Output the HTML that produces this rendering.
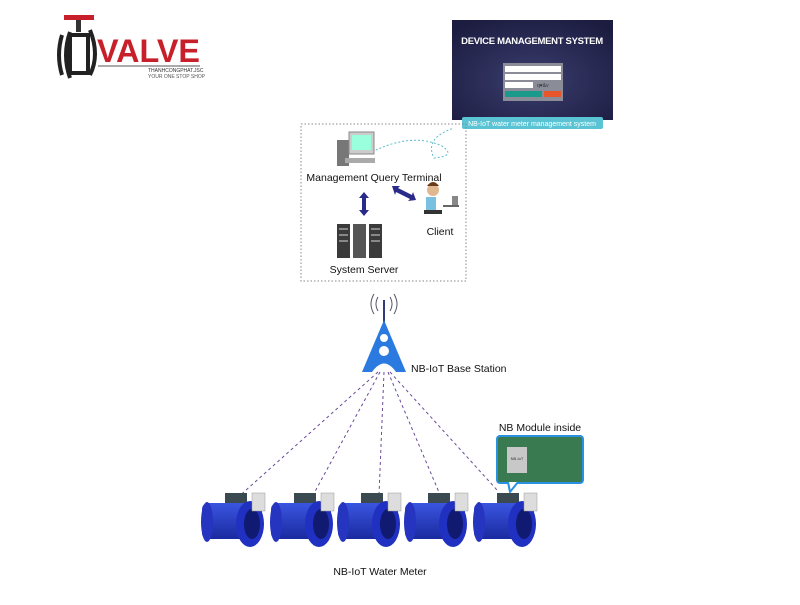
<!DOCTYPE html>
<html><head><meta charset="utf-8"><style>
body{margin:0;background:#fff;width:800px;height:600px;overflow:hidden;font-family:"Liberation Sans",sans-serif}
</style></head><body>
<svg width="800" height="600" viewBox="0 0 800 600" xmlns="http://www.w3.org/2000/svg" font-family="Liberation Sans, sans-serif">
<defs>
<radialGradient id="bg" cx="50%" cy="60%" r="70%"><stop offset="0" stop-color="#3a3d6e"/><stop offset="1" stop-color="#1c1c40"/></radialGradient>
<linearGradient id="mb" x1="0" y1="0" x2="0" y2="1"><stop offset="0" stop-color="#3a55e0"/><stop offset="1" stop-color="#1a2aa0"/></linearGradient>
</defs>
<!-- logo -->
<rect x="64" y="15" width="30" height="5" fill="#c8202a"/>
<rect x="76" y="20" width="5" height="12" fill="#333"/>
<path d="M62 35 q-6 20 0 40 M70 32 q-8 23 0 46" stroke="#222" stroke-width="4" fill="none"/>
<rect x="70" y="35" width="18" height="38" fill="none" stroke="#222" stroke-width="4"/>
<path d="M90 30 q10 25 0 45" stroke="#222" stroke-width="4" fill="none"/>
<text x="97" y="62" font-size="32" font-weight="bold" fill="#c8202a" textLength="103" lengthAdjust="spacingAndGlyphs">VALVE</text>
<line x1="98" y1="66" x2="200" y2="66" stroke="#555" stroke-width="1"/>
<text x="148" y="72" font-size="5" fill="#333">THANHCONGPHAT.JSC</text>
<text x="148" y="78" font-size="5" fill="#555">YOUR ONE STOP SHOP</text>
<!-- DMS screenshot -->
<rect x="452" y="20" width="161" height="100" fill="url(#bg)"/>
<text x="532" y="44" font-size="9.5" font-weight="bold" fill="#fff" text-anchor="middle" letter-spacing="-0.3">DEVICE MANAGEMENT SYSTEM</text>
<rect x="503" y="63" width="60" height="38" fill="#8a8c98"/>
<rect x="505" y="66" width="56" height="6" fill="#fff"/>
<rect x="505" y="74" width="56" height="6" fill="#fff"/>
<rect x="505" y="82" width="28" height="6" fill="#fff"/>
<text x="537" y="87" font-size="5" fill="#333">q♥&amp;v</text>
<rect x="505" y="91" width="37" height="6" fill="#1a9a8a"/>
<rect x="544" y="91" width="17" height="6" fill="#e8552a"/>
<rect x="462" y="117" width="141" height="12" rx="2" fill="#5bc4d4"/>
<text x="532" y="126" font-size="7" fill="#fff" text-anchor="middle">NB-IoT water meter management system</text>
<!-- dotted box -->
<rect x="301" y="124" width="165" height="157" fill="none" stroke="#888" stroke-dasharray="1.5 2" stroke-width="1"/>
<path d="M372 152 q40 -20 70 -6 q15 10 -8 12 q-10 -20 20 -30" stroke="#5bbccc" stroke-dasharray="2 2" fill="none"/>
<!-- computer -->
<rect x="337" y="140" width="12" height="26" fill="#777"/>
<rect x="349" y="132" width="25" height="22" fill="#ccc" stroke="#888"/>
<rect x="352" y="135" width="19" height="15" fill="#9fd"/>
<rect x="345" y="158" width="30" height="5" fill="#aaa"/>
<text x="374" y="181" font-size="10.5" fill="#111" text-anchor="middle">Management Query Terminal</text>
<!-- arrows -->
<path d="M364 192 l-5 6 h3 v12 h-3 l5 6 l5 -6 h-3 v-12 h3z" fill="#2a2a8a"/>
<path d="M392 186 l8 0 l-2 2 l14 7 l1-3 l3 8 l-8 1 l2-2 l-14-7 l-1 3z" fill="#2a2a8a"/>
<!-- person -->
<circle cx="433" cy="190" r="6" fill="#e0b890"/>
<path d="M427 186 q6 -8 12 0" fill="#6a3a1a"/>
<rect x="426" y="197" width="10" height="14" fill="#7ac0e0"/>
<rect x="424" y="210" width="18" height="4" fill="#333"/>
<rect x="443" y="205" width="16" height="2" fill="#666"/>
<rect x="452" y="196" width="6" height="9" fill="#888"/>
<text x="440" y="235" font-size="10.5" fill="#111" text-anchor="middle">Client</text>
<!-- servers -->
<rect x="337" y="224" width="13" height="34" fill="#3a3a3a"/>
<rect x="353" y="224" width="13" height="34" fill="#555"/>
<rect x="369" y="224" width="13" height="34" fill="#3a3a3a"/>
<g fill="#888"><rect x="339" y="228" width="9" height="2"/><rect x="339" y="234" width="9" height="2"/><rect x="339" y="240" width="9" height="2"/><rect x="371" y="228" width="9" height="2"/><rect x="371" y="234" width="9" height="2"/><rect x="371" y="240" width="9" height="2"/></g>
<text x="364" y="273" font-size="10.5" fill="#111" text-anchor="middle">System Server</text>
<!-- tower -->
<path d="M378 297 q-4 7 0 14 M374 294 q-6 10 0 20 M390 297 q4 7 0 14 M394 294 q6 10 0 20" stroke="#556" fill="none"/>
<line x1="384" y1="300" x2="384" y2="325" stroke="#333a7a" stroke-width="2"/>
<path d="M384 320 L362 372 L372 372 Q384 355 396 372 L406 372 Z" fill="#2a7ae0"/>
<circle cx="384" cy="338" r="4" fill="#fff"/><circle cx="384" cy="351" r="5" fill="#fff"/>
<text x="411" y="372" font-size="10.5" fill="#111">NB-IoT Base Station</text>
<!-- dashed lines -->
<g stroke="#6a4a9a" stroke-dasharray="3 3" stroke-width="1" fill="none">
<line x1="378" y1="372" x2="235" y2="500"/>
<line x1="380" y1="372" x2="312" y2="497"/>
<line x1="384" y1="372" x2="379" y2="495"/>
<line x1="388" y1="372" x2="441" y2="497"/>
<line x1="390" y1="372" x2="497" y2="490"/>
</g>
<!-- NB module -->
<text x="540" y="431" font-size="10.5" fill="#111" text-anchor="middle">NB Module inside</text>
<rect x="497" y="436" width="86" height="47" rx="3" fill="#3a7a50" stroke="#2a90e0" stroke-width="2"/>
<path d="M508 482 l2 10 l8 -10" fill="#fff" stroke="#2a90e0" stroke-width="2"/>
<rect x="507" y="447" width="20" height="26" fill="#c8c8c8"/>
<text x="517" y="460" font-size="4" text-anchor="middle" fill="#333">NB-IoT</text>
<!-- meters -->
<g id="m">
<rect x="225" y="493" width="22" height="12" fill="#3a4a50"/>
<rect x="202" y="503" width="60" height="36" rx="6" fill="url(#mb)"/>
<ellipse cx="250" cy="524" rx="14" ry="23" fill="#2030c0"/>
<ellipse cx="252" cy="524" rx="8" ry="15" fill="#101a70"/>
<ellipse cx="207" cy="522" rx="6" ry="20" fill="#2535c0"/>
<rect x="252" y="493" width="13" height="18" fill="#ddd" stroke="#999" stroke-width="0.5"/>
</g>
<use href="#m" x="69"/><use href="#m" x="136"/><use href="#m" x="203"/><use href="#m" x="272"/>
<text x="380" y="575" font-size="10.5" fill="#111" text-anchor="middle">NB-IoT Water Meter</text>
</svg>
</body></html>
